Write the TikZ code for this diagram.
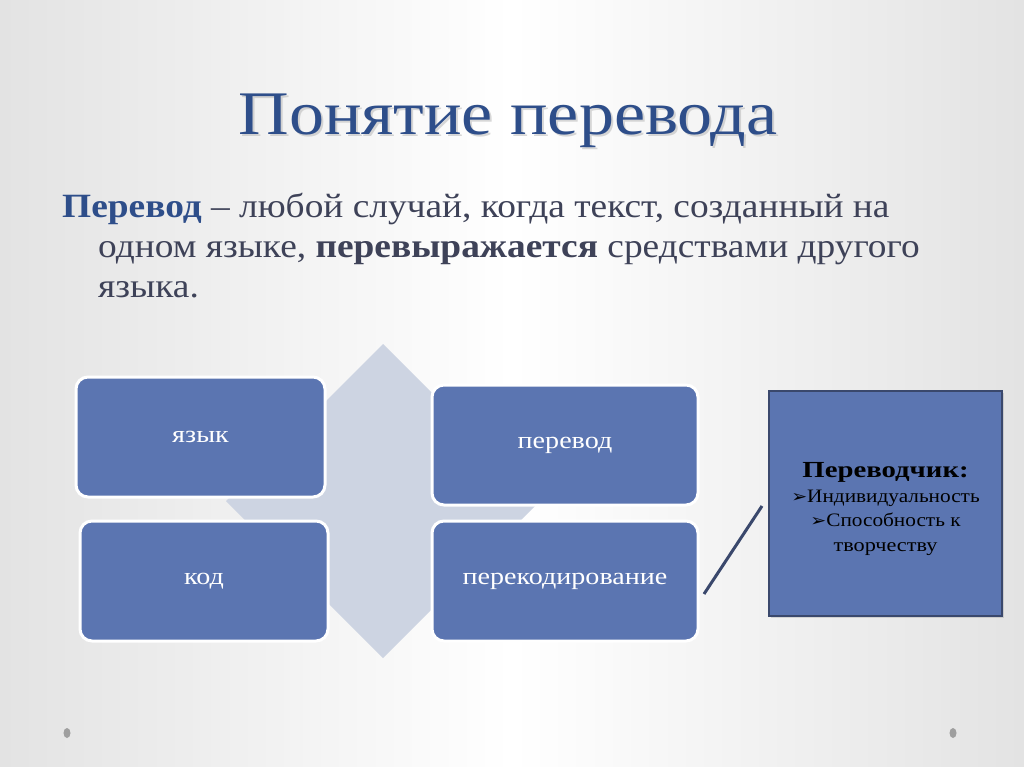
\documentclass[tikz,border=0pt]{standalone}
\usepackage{fontspec}
\usepackage{graphicx}
\setmainfont{Liberation Serif}
\newfontfamily\symfont{DejaVu Sans}
\usetikzlibrary{shadows}
\definecolor{titleblue}{RGB}{46,78,138}
\definecolor{bodygray}{RGB}{62,66,88}
\definecolor{boxblue}{RGB}{91,117,177}
\definecolor{rhombgray}{RGB}{205,212,226}
\definecolor{frameblue}{RGB}{58,72,108}
\newcommand{\wider}[2][1.17]{\scalebox{#1}[1]{#2}}
\newcommand{\tick}{{\symfont\fontsize{17}{24.5}\selectfont ➢}}

\begin{document}
\begin{tikzpicture}[x=1pt,y=-1pt,
    cell/.style={rectangle,rounded corners=12pt,fill=boxblue,draw=white,
      line width=3pt,text=white,font=\fontsize{24}{28}\selectfont,
      minimum width=#1,minimum height=120pt,inner sep=0pt},
    deftext/.style={anchor=base west,inner sep=0pt,text=bodygray,
      font=\fontsize{34}{40}\selectfont}]
  % background
  \useasboundingbox (0,0) rectangle (1024,767);
  \shade[left color=gray!22,right color=gray!22,middle color=white] (0,0) rectangle (1024,767);
  % title
  \node[anchor=base,text=gray!60,opacity=0.5,font=\fontsize{62}{70}\selectfont] at (510,137) {\wider[1.13]{Понятие перевода}};
  \node[anchor=base,text=titleblue,font=\fontsize{62}{70}\selectfont] (title) at (508,135) {\wider[1.13]{Понятие перевода}};
  % definition
  \node[deftext] (def1) at (62,218) {\wider[1.1]{{\bfseries\color{titleblue}Перевод} – любой случай, когда текст, созданный на}};
  \node[deftext] (def2) at (98,258) {\wider[1.1]{одном языке, {\bfseries перевыражается} средствами другого}};
  \node[deftext] (def3) at (98,297) {\wider[1.1]{языка.}};
  % matrix
  \fill[rhombgray] (383,344) -- (540,501) -- (383,658) -- (226,501) -- cycle;
  \node[cell=249pt] (lang) at (200.5,437) {\wider{язык}};
  \node[cell=266pt] (trans) at (565,445) {\wider{перевод}};
  \node[cell=248pt] (code) at (204,581) {\wider{код}};
  \node[cell=266pt] (recode) at (565,581) {\wider{перекодирование}};
  % translator
  \node[rectangle,fill=boxblue,draw=frameblue,line width=2pt,
    drop shadow={opacity=0.25,shadow xshift=2pt,shadow yshift=-2pt},
    minimum width=233pt,minimum height=225pt] (person) at (885.5,503) {};
  \node[align=center,font=\fontsize{19}{24.5}\selectfont,text=black]
    (persontext) at (885.5,509)
    {\wider[1.25]{\fontsize{23}{24.5}\selectfont\bfseries Переводчик:}\\
     \wider[1.12]{\tick Индивидуальность}\\
     \wider[1.12]{\tick Способность к}\\
     \wider{творчеству}};
  \coordinate (linkA) at (704,594);
  \coordinate (linkB) at (762,506);
  \draw[frameblue,line width=3pt] (linkA) -- (linkB);
  % dots
  \fill[gray!75] (67,733) ellipse (3.5pt and 5pt);
  \fill[gray!75] (953,733) ellipse (3.5pt and 5pt);
\end{tikzpicture}
\end{document}
